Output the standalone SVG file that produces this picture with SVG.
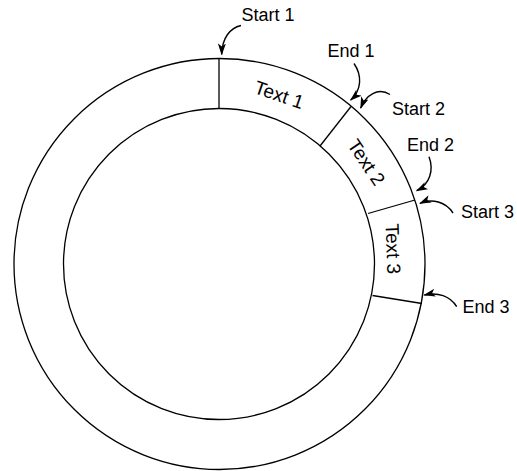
<svg xmlns="http://www.w3.org/2000/svg" width="517" height="471" viewBox="0 0 517 471">
<defs>
<style>
.ring{fill:none;stroke:#000;stroke-width:1.3}
.div{stroke:#000;stroke-width:1.3}
.lbl{font-family:"Liberation Sans",Arial,sans-serif;font-size:18px;fill:#000}
.seg{font-family:"Liberation Sans",Arial,sans-serif;font-size:19px;fill:#000}
.arr{fill:none;stroke:#000;stroke-width:1.4;marker-end:url(#ah)}
</style>
<marker id="ah" viewBox="0 0 12 8" refX="11" refY="4" markerWidth="12" markerHeight="8" markerUnits="userSpaceOnUse" orient="auto">
<path d="M0,0 L12,4 L0,8 L3,4 z" fill="#000"/>
</marker>
</defs>
<g id="ring">
<circle class="ring" cx="219.5" cy="264" r="205.5"/>
<circle class="ring" cx="219" cy="264" r="155.5"/>
</g>
<g id="dividers">
<line class="div" x1="219" y1="58.5" x2="219" y2="108.5"/>
<line class="div" x1="351" y1="106.5" x2="320" y2="146"/>
<line class="div" x1="415" y1="200" x2="368" y2="213.5"/>
<line class="div" x1="422" y1="303.5" x2="372.5" y2="295.5"/>
</g>
<g id="segment1"><text class="seg" transform="translate(277,101) rotate(19)" text-anchor="middle">Text 1</text></g>
<g id="segment2"><text class="seg" transform="translate(361,166) rotate(56)" text-anchor="middle">Text 2</text></g>
<g id="segment3"><text class="seg" transform="translate(386.5,249) rotate(88)" text-anchor="middle">Text 3</text></g>
<g id="labels">
<text class="lbl" x="241.5" y="20.5">Start 1</text>
<text class="lbl" x="327.5" y="56.5">End 1</text>
<text class="lbl" x="392" y="115">Start 2</text>
<text class="lbl" x="407" y="151">End 2</text>
<text class="lbl" x="461" y="217.5">Start 3</text>
<text class="lbl" x="462.5" y="312.5">End 3</text>
</g>
<g id="connectors">
<path class="arr" d="M241,25.5 C230,28 222,38 221.7,54.5"/>
<path class="arr" d="M354,63.5 C362,75 362,90 350.7,100"/>
<path class="arr" d="M390,94.5 C378,87 366,95 360.7,108"/>
<path class="arr" d="M429,156.7 C434,170 430,184 416.7,190.7"/>
<path class="arr" d="M453,213 C446,202 432,198 420,203.3"/>
<path class="arr" d="M456.7,306.7 C450,296 438,292 424.3,295"/>
</g>
</svg>
